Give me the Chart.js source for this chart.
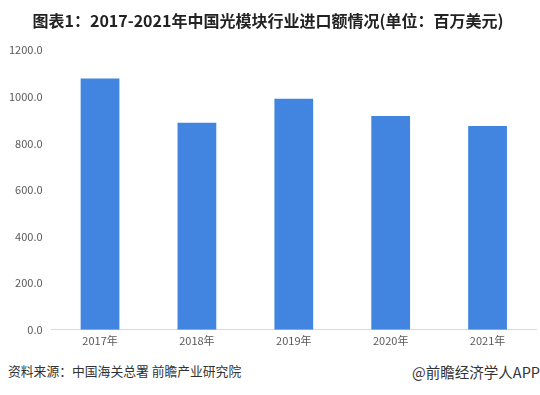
<!DOCTYPE html>
<html>
<head>
<meta charset="utf-8">
<script src="https://cdn.jsdelivr.net/npm/chart.js@4.4.0/dist/chart.umd.min.js"></script>
<style>
  html, body { margin: 0; padding: 0; background: #fff; }
  #wrap { position: relative; width: 540px; height: 395px; font-family: "Noto Sans CJK SC", "Noto Sans", sans-serif; }
  #chart-box { position: absolute; left: 0; top: 0; width: 540px; height: 351px; }
  .foot { position: absolute; top: 361px; color: #333; white-space: nowrap; }
  #src { left: 8px; font-size: 12.8px; }
  #brand { right: 0; font-size: 14.5px; }
</style>
</head>
<body>
<div id="wrap">
  <div id="chart-box"><canvas id="c"></canvas></div>
  <div class="foot" id="src">资料来源：中国海关总署 前瞻产业研究院</div>
  <div class="foot" id="brand">@前瞻经济学人APP</div>
</div>
<script>
const YEARS  = ['2017年', '2018年', '2019年', '2020年', '2021年'];
const IMPORT = [1079, 889, 992, 918, 875];   // 百万美元
const Y_TICKS = [0, 200, 400, 600, 800, 1000, 1200];

const FONT = '"Noto Sans CJK SC", "Noto Sans", sans-serif';

new Chart(document.getElementById('c'), {
  type: 'bar',
  data: {
    labels: YEARS,
    datasets: [{
      label: '进口额',
      data: IMPORT,
      backgroundColor: '#4285e0',
      barPercentage: 0.4,
      categoryPercentage: 1,
    }],
  },
  options: {
    responsive: true, maintainAspectRatio: false, animation: false,
    layout: { padding: { left: 0, right: 4, top: 0, bottom: 0 } },
    plugins: {
      legend: { display: false },
      tooltip: { enabled: false },
      title: {
        display: true,
        text: '图表1：2017-2021年中国光模块行业进口额情况(单位：百万美元)',
        color: '#222',
        font: { family: FONT, size: 16, weight: 'bold' },
        padding: { top: 11, bottom: 20 },
      },
    },
    scales: {
      y: {
        min: 0, max: 1200,
        afterBuildTicks: axis => { axis.ticks = Y_TICKS.map(v => ({ value: v })); },
        grid: { display: false, drawTicks: false },
        border: { display: false },
        ticks: { color: '#595959', font: { family: FONT, size: 11 }, padding: 9, callback: v => Number(v).toFixed(1) },
      },
      x: {
        grid: { display: false, drawTicks: false },
        border: { color: '#d9d9d9' },
        ticks: { color: '#595959', font: { family: FONT, size: 11 }, padding: 4 },
      },
    },
  },
});
</script>
</body>
</html>
